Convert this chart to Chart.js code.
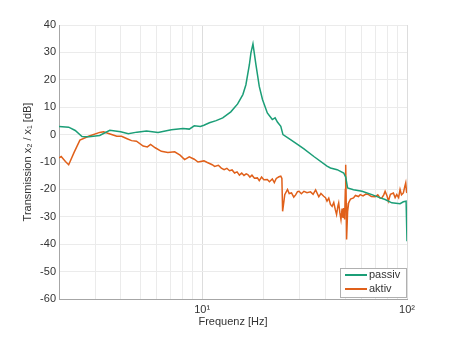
<!DOCTYPE html>
<html>
<head>
<meta charset="utf-8">
<script src="https://cdn.jsdelivr.net/npm/chart.js@4"></script>
<style>
  html, body { margin: 0; padding: 0; background: #fff; }
  #wrap { width: 450px; height: 337px; }
</style>
</head>
<body>
<div id="wrap"><canvas id="myChart" width="450" height="337"></canvas></div>
<script>
// frequency axis gridlines (Hz)
var tickValues = [2, 3, 4, 5, 6, 7, 8, 9, 10, 20, 30, 40, 50, 60, 70, 80, 90, 100];
var tickLabels = { 10: '10\u00b9', 100: '10\u00b2' };

var passivFreq = [2.0, 2.23, 2.4, 2.59, 2.8, 3.16, 3.54, 4.0, 4.36, 4.8, 5.35, 6.09, 7.07, 8.06, 8.65, 9.15,
  9.8, 10.2, 10.85, 11.7, 12.6, 13.8, 14.9, 15.8, 16.35, 17.0, 17.3, 17.7, 18.3, 19.0, 19.7,
  20.8, 22.0, 22.7, 23.3, 24.2, 24.8, 27.0, 29.2, 31.4, 35.1, 40.7, 42.3, 45.6, 49.1, 50.2, 51.3, 54.8, 60.3,
  67.4, 74.0, 78.2, 84.3, 92.5, 96.0, 99.0, 100];
var passivDb = [3.0, 2.7, 1.5, -0.7, -0.8, -0.3, 1.6, 1.0, 0.3, 0.9, 1.3, 0.8, 1.8, 2.2, 2.0, 3.2,
  3.0, 3.4, 4.3, 5.1, 6.1, 8.3, 11.2, 14.6, 18.2, 25.5, 29.8, 33.1, 25.5, 17.6, 12.8,
  7.9, 5.5, 6.1, 4.6, 3.0, 0.0, -1.8, -3.6, -5.2, -8.0, -11.5, -12.2, -12.8, -14.0, -15.5, -19.5, -20.1, -20.7,
  -21.9, -23.1, -23.7, -24.9, -25.2, -24.5, -24.3, -38.9];

var aktivFreq = [2.0, 2.05, 2.15, 2.23, 2.37, 2.53, 2.79, 3.16, 3.3, 3.49, 3.83, 4.04, 4.3, 4.52, 4.78, 5.15,
  5.4, 5.6, 5.9, 6.32, 6.8, 7.34, 7.8, 8.21, 8.65, 9.15, 9.54, 10.2, 10.6, 11.2, 11.5, 12.0, 12.4, 12.8,
  13.2, 13.6, 14.0, 14.4, 14.8, 15.2, 15.6, 16.0, 16.4, 16.7, 17.1, 17.5, 18.0, 18.6, 19.0, 19.5, 20.0,
  20.8, 21.3, 22.0, 22.5, 23.0, 23.7, 24.2, 24.5, 24.7, 25.0, 25.3, 26.1, 26.6, 27.3, 28.0, 28.6, 29.2,
  29.7, 30.5, 31.4, 32.5, 33.8, 34.8, 35.8, 37.1, 38.0, 39.2, 40.0, 40.7, 41.5, 42.3, 43.1, 43.9, 44.7,
  45.3, 46.0, 46.4, 47.0, 47.6, 48.2, 48.7, 49.1, 49.6, 50.0, 50.2, 50.5, 50.7, 51.3, 51.9, 53.0, 54.8,
  56.0, 58.0, 59.1, 61.0, 63.0, 64.9, 67.0, 69.9, 72.0, 74.0, 75.4, 77.0, 78.2, 80.0, 81.1, 83.0, 85.8,
  87.5, 89.1, 91.0, 92.5, 94.0, 96.0, 97.5, 98.6, 99.5, 100];
var aktivDb = [-8.5, -8.0, -9.8, -11.0, -6.5, -2.0, -0.6, 0.8, 1.0, 0.4, -0.6, -0.6, -1.5, -2.2, -2.4, -4.2,
  -4.5, -3.6, -4.8, -6.1, -6.5, -6.3, -7.5, -9.1, -8.1, -9.0, -10.0, -9.6, -10.2, -11.0, -11.6, -11.2, -12.2, -12.8,
  -12.3, -13.2, -12.9, -14.0, -13.6, -14.8, -14.0, -14.9, -14.3, -14.6, -15.5, -14.8, -15.9, -15.8, -16.8, -15.5, -16.5,
  -16.4, -17.2, -16.2, -17.5, -16.0, -15.4, -15.2, -16.0, -28.0, -25.0, -21.9, -20.0, -21.5, -21.3, -22.8, -22.0, -20.8,
  -20.7, -21.6, -20.7, -21.2, -20.9, -21.8, -20.2, -22.7, -21.5, -22.5, -23.0, -24.3, -23.2, -25.5, -26.2, -24.8, -27.5,
  -29.2, -26.0, -24.9, -28.5, -31.0, -27.0, -30.4, -26.8, -31.0, -20.0, -11.0, -25.0, -38.3, -28.0, -24.9, -23.5, -23.1,
  -22.2, -22.6, -21.9, -22.4, -21.7, -21.9, -22.6, -22.7, -22.0, -23.2, -23.1, -22.0, -20.7, -22.5, -24.3, -21.8, -21.3,
  -23.0, -21.9, -23.0, -20.0, -22.0, -21.3, -19.0, -17.6, -21.0, -21.3];

function toPoints(xs, ys) {
    return xs.map(function (x, i) { return { x: x, y: ys[i] }; });
}

var textColor = '#333333';
var fontFamily = '"Liberation Sans", Arial, sans-serif';

// legend box in the lower right corner of the plot
var insideLegend = {
    id: 'insideLegend',
    afterDraw: function (chart) {
        var c = chart.ctx, area = chart.chartArea;
        var w = 66, h = 29;
        var x0 = area.right - w - 1, y0 = area.bottom - h - 2;
        c.save();
        c.fillStyle = '#fff';
        c.fillRect(x0, y0, w, h);
        c.strokeStyle = '#b0b0b0';
        c.lineWidth = 1;
        c.strokeRect(x0 + 0.5, y0 + 0.5, w, h);
        c.font = '11px ' + fontFamily;
        c.textBaseline = 'middle';
        chart.data.datasets.forEach(function (ds, i) {
            var y = y0 + 7 + i * 14;
            c.strokeStyle = ds.borderColor;
            c.lineWidth = 2;
            c.beginPath();
            c.moveTo(x0 + 5, y);
            c.lineTo(x0 + 27, y);
            c.stroke();
            c.fillStyle = textColor;
            c.fillText(ds.label, x0 + 29, y);
        });
        c.restore();
    }
};

var ctx = document.getElementById('myChart').getContext('2d');
var myChart = new Chart(ctx, {
    type: 'line',
    data: {
        datasets: [{
            label: 'passiv',
            data: toPoints(passivFreq, passivDb),
            borderColor: '#1b9e77',
            borderWidth: 1.5,
            pointRadius: 0,
            tension: 0
        }, {
            label: 'aktiv',
            data: toPoints(aktivFreq, aktivDb),
            borderColor: '#e0601a',
            borderWidth: 1.5,
            pointRadius: 0,
            tension: 0
        }]
    },
    options: {
        responsive: false,
        animation: false,
        layout: { padding: { top: 25, right: 43, left: 0, bottom: 0 } },
        plugins: {
            legend: { display: false },
            tooltip: { enabled: false }
        },
        scales: {
            x: {
                type: 'logarithmic',
                min: 2,
                max: 100,
                afterBuildTicks: function (scale) {
                    scale.ticks = tickValues.map(function (v) { return { value: v }; });
                },
                afterFit: function (scale) { scale.height = 38; },
                ticks: {
                    autoSkip: false,
                    maxRotation: 0,
                    padding: 4,
                    color: textColor,
                    font: { family: fontFamily, size: 11 },
                    callback: function (value) { return tickLabels[value] || ''; }
                },
                grid: {
                    drawTicks: false,
                    color: function (c) {
                        return (c.tick && (c.tick.value === 10 || c.tick.value === 100)) ? '#dddddd' : '#ebebeb';
                    }
                },
                border: { color: '#a6a6a6' },
                title: {
                    display: true,
                    text: 'Frequenz [Hz]',
                    color: textColor,
                    font: { family: fontFamily, size: 11 },
                    padding: { top: 0, bottom: 8 }
                }
            },
            y: {
                min: -60,
                max: 40,
                afterFit: function (scale) { scale.width = 59; },
                ticks: {
                    stepSize: 10,
                    padding: 3,
                    color: textColor,
                    font: { family: fontFamily, size: 11 }
                },
                grid: { drawTicks: false, color: '#ebebeb' },
                border: { color: '#a6a6a6' },
                title: {
                    display: true,
                    text: 'Transmission x\u2082 / x\u2081 [dB]',
                    color: textColor,
                    font: { family: fontFamily, size: 11 },
                    padding: { top: 21, bottom: 0 }
                }
            }
        }
    },
    plugins: [insideLegend]
});
</script>
</body>
</html>
